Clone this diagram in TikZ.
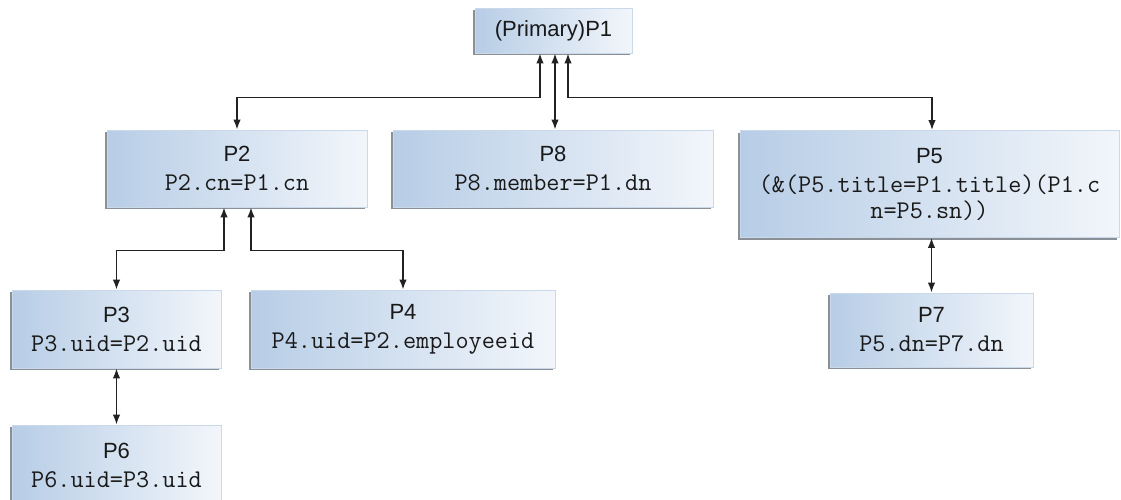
\documentclass[tikz,border=0pt]{standalone}
\usepackage{fontspec}
\setsansfont{Liberation Sans}
\usetikzlibrary{positioning,calc,arrows.meta,shadows}
\definecolor{boxleft}{HTML}{B7CDE6}
\definecolor{boxright}{HTML}{F2F6FB}
\definecolor{boxedge}{HTML}{C9D9EA}
\definecolor{boxshade}{HTML}{7E848C}
\definecolor{linkink}{HTML}{222222}
\newcommand{\codeline}[1]{{\fontsize{25.5}{26}\selectfont\ttfamily #1}}
\newcommand{\boxtext}[2]{\sffamily #1\\[3pt]\codeline{#2}}

\begin{document}
\begin{tikzpicture}[x=1pt, y=-1pt,
  every node/.style={font=\fontsize{22}{26}\selectfont, text=black!90},
  pbox/.style={left color=boxleft, right color=boxright, draw=boxedge, line width=0.8pt,
               align=center, inner sep=0pt,
               drop shadow={shadow xshift=-2pt, shadow yshift=-2pt, fill=boxshade, opacity=0.9}},
  link/.style={{Latex[length=10pt,width=7.5pt]}-{Latex[length=10pt,width=7.5pt]}, draw=linkink, line width=1.5pt}]
\useasboundingbox (0,0) rectangle (1121,499);
\node[pbox, minimum width=157pt, minimum height=45pt] (p1) at (553.5,30.5) {\sffamily (Primary)P1};
\node[pbox, minimum width=260pt, minimum height=77pt] (p2) at (237,168.5) {\boxtext{P2}{P2.cn=P1.cn}};
\node[pbox, minimum width=320pt, minimum height=77pt] (p8) at (553,168.5) {\boxtext{P8}{P8.member=P1.dn}};
\node[pbox, minimum width=379pt, minimum height=107pt] (p5) at (929.5,184)
  {\boxtext{P5}{(\&(P5.title=P1.title)(P1.c}\\\codeline{n=P5.sn))}};
\node[pbox, minimum width=209pt, minimum height=78pt] (p3) at (116.5,329) {\boxtext{P3}{P3.uid=P2.uid}};
\node[pbox, minimum width=304pt, minimum height=78pt] (p4) at (403,329) {\boxtext{P4}{P4.uid=P2.employeeid}};
\node[pbox, minimum width=203pt, minimum height=74pt] (p7) at (931.5,330) {\boxtext{P7}{P5.dn=P7.dn}};
\node[pbox, minimum width=209pt, minimum height=80pt] (p6) at (116.5,465) {\boxtext{P6}{P6.uid=P3.uid}};
% links to the primary
\draw[link] ([xshift=-13.5pt]p1.south) -- ++(0,44) -| (p2.north);
\draw[link] ([xshift=1.5pt]p1.south) -- ([xshift=1.5pt]p1.south |- p8.north);
\draw[link] ([xshift=14.5pt]p1.south) -- ++(0,44) -| ([xshift=2.5pt]p5.north);
% lower levels
\draw[link] ([xshift=-13pt]p2.south) -- ++(0,43) -| (p3.north);
\draw[link] ([xshift=14pt]p2.south) -- ++(0,43) -| (p4.north);
\draw[link] (p3.south) -- (p6.north);
\draw[link] (p7.north |- p5.south) -- (p7.north);
\end{tikzpicture}
\end{document}
